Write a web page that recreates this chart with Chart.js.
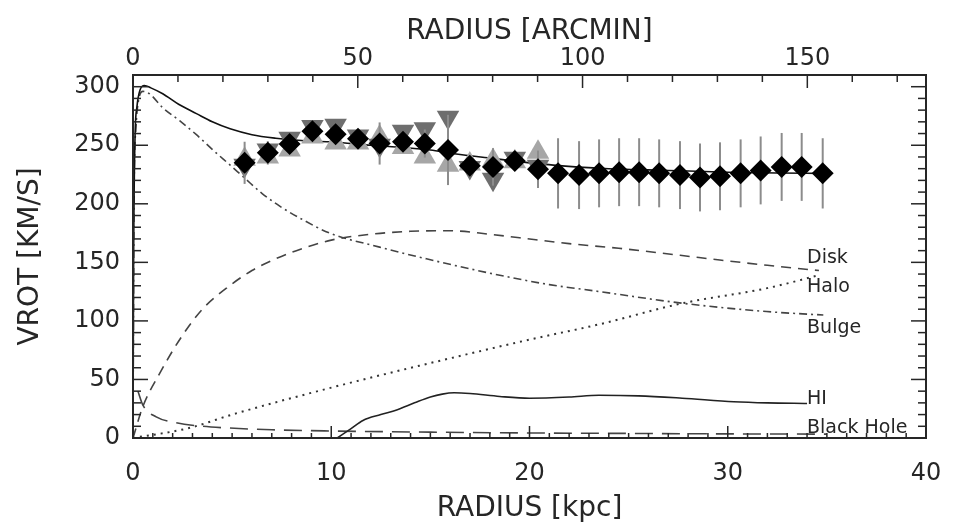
<!DOCTYPE html>
<html>
<head>
<meta charset="utf-8">
<script src="https://cdn.jsdelivr.net/npm/chart.js@4.4.1/dist/chart.umd.min.js"></script>
<style>
  html, body { margin: 0; padding: 0; background: #fff; }
</style>
</head>
<body>
<canvas id="myChart" width="965" height="526"></canvas>
<script>
var obsR = [5.63, 6.80, 7.90, 9.05, 10.22, 11.35, 12.44, 13.62, 14.72, 15.89, 16.99, 18.16, 19.26, 20.43,
            21.44, 22.50, 23.51, 24.52, 25.53, 26.54, 27.59, 28.60, 29.61, 30.65, 31.66, 32.72, 33.73, 34.79];
var obsV = [235, 243.5, 251, 262, 259.5, 255.5, 251.5, 253, 251.5, 246, 232.5, 231.5, 236.5, 229.5,
            226, 224.5, 226, 227, 227, 226, 224.5, 222.5, 223.5, 226, 228.5, 231.5, 231.5, 226];
var obsErr = [18, 10, 8, 8, 8, 8, 18, 8, 12, 30, 8, 16, 8, 16,
              30, 29, 29, 29, 29, 29, 29, 29, 29, 29, 29, 29, 29, 30];

// the two sides (grey triangles)
var sideR = [5.63, 6.80, 7.90, 9.05, 10.22, 11.35, 12.44, 13.62, 14.72, 15.89, 16.99, 18.16, 19.26, 20.43];
var upV   = [238, 240, 246, 257, 252, 252, 257, 248, 240, 233, 234, 237, 236, 244];
var downV = [233, 246, 256, 266, 267, 258, 250, 262, 264, 274, 231, 221, 239, 232];

// model curves
var totalR = [0, 0.03, 0.1, 0.2, 0.35, 0.58, 0.9, 1.5, 2.3, 3.2, 4, 4.9, 6, 7.2, 8.5, 9.9, 12, 15, 16.1, 18, 21.2, 24, 27, 30, 32.5, 34.7];
var totalV = [0, 150, 255, 283, 297, 301, 299, 294, 285, 277, 270, 264, 259, 256, 254, 253, 250, 246, 243, 239, 233, 230, 228.5, 227, 226.3, 226];

var diskR = [0, 0.5, 1.34, 2.43, 3.5, 4.87, 6, 7.06, 8.24, 10, 12, 14, 16, 18, 19.5, 22, 24.5, 27.6, 29.6, 32, 34.6];
var diskV = [0, 27, 55, 86, 110, 130, 143, 152, 160, 169, 174, 176.5, 177, 174, 171, 166, 162, 156, 152, 147.5, 143];

var bulgeR = [0, 0.05, 0.15, 0.3, 0.5, 0.83, 1.5, 2.35, 3.2, 4.03, 4.9, 5.63, 6.5, 7.4, 8.5, 9.92, 12.44, 14.8, 18.5, 21, 23.55, 27.75, 31.96, 34.82];
var bulgeV = [0, 200, 265, 290, 296, 294, 282, 271, 259, 246, 233, 222, 209, 198, 187, 175, 163, 153, 139, 131, 125, 115, 108, 105];

var haloR = [0, 2.7, 5.2, 10, 15, 20, 23.5, 27.7, 32, 34.6];
var haloV = [0, 8, 21, 43, 64, 84, 97, 115, 128, 139];

var hiR = [10.3, 11, 11.6, 12.5, 13.3, 14.2, 15, 15.6, 16.2, 17, 18.5, 20, 22, 23.5, 25.5, 27.7, 30.3, 32, 34];
var hiV = [0, 8, 15, 20, 24, 30, 35, 37.5, 38.6, 38, 35.5, 34, 35, 36.5, 36, 34, 31, 30, 29.5];

var bhR = [0.25, 0.5, 1.17, 2.18, 3.52, 4.87, 7, 10, 15, 20, 25, 30, 35];
var bhV = [40, 28, 18, 13, 10, 8.5, 7, 6, 5, 4.3, 3.9, 3.5, 3.3];

// curve labels at the right end
var labelText = ['Disk', 'Halo', 'Bulge', 'HI', 'Black Hole'];
var labelR = [34.0, 34.0, 34.0, 34.0, 34.0];
var labelV = [153.6, 129, 93.8, 33.2, 8.9];

var yTicks = [0, 50, 100, 150, 200, 250, 300];

function pts(xs, ys) {
  return xs.map(function (r, i) { return {x: r, y: ys[i]}; });
}

var ink = '#262626';
var tickFont = {family: 'DejaVu Sans', size: 24};
var titleFont = {family: 'DejaVu Sans', size: 28};

// inward ticks on all four sides + frame
var frameTicks = {
  id: 'frameTicks',
  afterDatasetsDraw: function (chart) {
    var ctx = chart.ctx, a = chart.chartArea;
    var sx = chart.scales.x, sy = chart.scales.y, sx2 = chart.scales.x2;
    function seg(x1, y1, x2, y2) { ctx.beginPath(); ctx.moveTo(x1, y1); ctx.lineTo(x2, y2); ctx.stroke(); }
    ctx.save();
    ctx.strokeStyle = ink;
    ctx.lineWidth = 1.5;
    for (var v = 0; v <= 310; v += 10) {
      var py = sy.getPixelForValue(v);
      var len = v % 50 === 0 ? 15 : 8;
      seg(a.left, py, a.left + len, py);
      seg(a.right, py, a.right - len, py);
    }
    for (var k = 0; k <= 40; k += 1) {
      var px = sx.getPixelForValue(k);
      seg(px, a.bottom, px, a.bottom - (k % 10 === 0 ? 12 : 5));
    }
    for (var m = 0; m <= 170; m += 10) {
      var qx = sx2.getPixelForValue(m);
      seg(qx, a.top, qx, a.top + (m % 50 === 0 ? 13 : 7));
    }
    ctx.lineWidth = 2;
    ctx.strokeRect(a.left, a.top, a.right - a.left, a.bottom - a.top);

    // curve names
    ctx.fillStyle = ink;
    ctx.font = '19px "DejaVu Sans"';
    ctx.textAlign = 'left';
    ctx.textBaseline = 'middle';
    labelText.forEach(function (t, i) {
      ctx.fillText(t, sx.getPixelForValue(labelR[i]), sy.getPixelForValue(labelV[i]));
    });
    ctx.restore();
  }
};

// grey error bars under the diamonds
var errorBars = {
  id: 'errorBars',
  beforeDatasetDraw: function (chart, args) {
    if (args.index !== 0) return;
    var ctx = chart.ctx, sx = chart.scales.x, sy = chart.scales.y;
    ctx.save();
    ctx.strokeStyle = '#8c8c8c';
    ctx.lineWidth = 2;
    obsR.forEach(function (r, i) {
      var px = sx.getPixelForValue(r);
      ctx.beginPath();
      ctx.moveTo(px, sy.getPixelForValue(obsV[i] - obsErr[i]));
      ctx.lineTo(px, sy.getPixelForValue(obsV[i] + obsErr[i]));
      ctx.stroke();
    });
    ctx.restore();
  }
};

function curve(data, color, width, dash, order) {
  return {
    data: data, showLine: true, pointRadius: 0, borderColor: color, borderWidth: width,
    borderDash: dash, cubicInterpolationMode: 'monotone', fill: false, order: order
  };
}

var ctx = document.getElementById('myChart').getContext('2d');
var myChart = new Chart(ctx, {
  type: 'scatter',
  data: {
    datasets: [
      {data: pts(obsR, obsV), pointStyle: 'rectRot', pointRadius: 11, backgroundColor: '#000',
       borderWidth: 0, order: 0},
      {data: pts(sideR, downV), pointStyle: 'triangle', rotation: 180, pointRadius: 13,
       backgroundColor: '#6e6e6e', borderWidth: 0, order: 1},
      {data: pts(sideR, upV), pointStyle: 'triangle', pointRadius: 13,
       backgroundColor: '#a6a6a6', borderWidth: 0, order: 2},
      curve(pts(totalR, totalV), '#111', 1.6, [], 3),
      curve(pts(diskR, diskV), '#444', 1.6, [10, 7], 4),
      curve(pts(bulgeR, bulgeV), '#444', 1.6, [8, 4, 2, 4], 5),
      curve(pts(haloR, haloV), '#333', 2, [2, 5], 6),
      curve(pts(hiR, hiV), '#222', 1.6, [], 7),
      curve(pts(bhR, bhV), '#444', 1.6, [18, 9], 8)
    ]
  },
  plugins: [errorBars, frameTicks],
  options: {
    responsive: false,
    animation: false,
    events: [],
    layout: {padding: {left: 0, right: 39, top: 0, bottom: 0}},
    plugins: {legend: {display: false}, tooltip: {enabled: false}},
    scales: {
      x: {
        type: 'linear', position: 'bottom', min: 0, max: 40,
        grid: {display: false, drawTicks: false}, border: {display: false},
        ticks: {stepSize: 10, font: tickFont, color: ink, padding: 21, maxRotation: 0},
        title: {display: true, text: 'RADIUS [kpc]', font: titleFont, color: ink, padding: {top: 0, bottom: 0}},
        afterFit: function (s) { s.height = 88; }
      },
      x2: {
        type: 'linear', position: 'top', min: 0, max: 176.4,
        grid: {display: false, drawTicks: false}, border: {display: false},
        ticks: {stepSize: 50, includeBounds: false, font: tickFont, color: ink, padding: 2, maxRotation: 0},
        title: {display: true, text: 'RADIUS [ARCMIN]', font: titleFont, color: ink, padding: {top: 15, bottom: 0}},
        afterFit: function (s) { s.height = 75; }
      },
      y: {
        type: 'linear', position: 'left', min: 0, max: 310,
        grid: {display: false, drawTicks: false}, border: {display: false},
        afterBuildTicks: function (s) { s.ticks = yTicks.map(function (v) { return {value: v}; }); },
        ticks: {font: tickFont, color: ink, padding: 13},
        title: {display: true, text: 'VROT [KM/S]', font: titleFont, color: ink, padding: {top: 14, bottom: 0}},
        afterFit: function (s) { s.width = 133; }
      }
    }
  }
});
</script>
</body>
</html>
